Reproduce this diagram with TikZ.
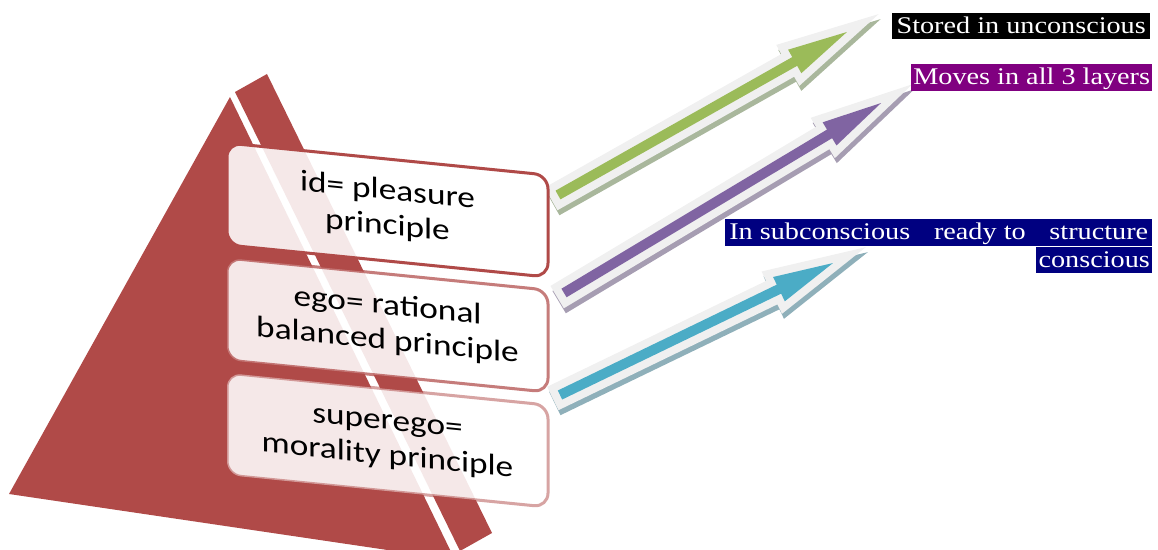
\documentclass[tikz,border=0pt]{standalone}
\usepackage{fontspec}
\setmainfont{Liberation Serif}
\newfontfamily\carlito{Carlito}
\definecolor{pyr}{HTML}{B04A48}
\definecolor{outl}{HTML}{F0F0F0}
\definecolor{agreen}{HTML}{9BBB59}
\definecolor{sgreen}{HTML}{A9B79C}
\definecolor{apurple}{HTML}{8064A2}
\definecolor{spurple}{HTML}{A69DB2}
\definecolor{ablue}{HTML}{4BACC6}
\definecolor{sblue}{HTML}{8FB0BA}
\definecolor{lblpurple}{HTML}{800080}
\definecolor{lblnavy}{HTML}{000080}
\newcommand\tdarrow[6]{%
  \begin{scope}[shift={(#1+2,#2+5)},rotate=#3]
    \draw[draw=#6,fill=#6,line width=16bp,line join=miter,miter limit=12]
      (0,-5) -- ({#4-60},-5) -- ({#4-60},-13.5) -- (#4,0) -- ({#4-60},13.5) -- ({#4-60},5) -- (0,5) -- cycle;
  \end{scope}
  \begin{scope}[shift={(#1,#2)},rotate=#3]
    \draw[draw=outl,fill=outl,line width=16bp,line join=miter,miter limit=12]
      (0,-5) -- ({#4-60},-5) -- ({#4-60},-13.5) -- (#4,0) -- ({#4-60},13.5) -- ({#4-60},5) -- (0,5) -- cycle;
    \fill[#5]
      (0,-5) -- ({#4-60},-5) -- ({#4-60},-13.5) -- (#4,0) -- ({#4-60},13.5) -- ({#4-60},5) -- (0,5) -- cycle;
  \end{scope}}
\begin{document}
\begin{tikzpicture}[x=1bp,y=-1bp,
  pbox/.style={transform shape,rounded corners=14bp,line width=3bp,fill=white,
    fill opacity=0.88,text opacity=1,minimum width=321bp,minimum height=102bp,
    inner sep=0pt,font=\carlito\fontsize{30}{35}\selectfont},
  lbl/.style={inner sep=0pt,anchor=north west,text=white,
    font=\fontsize{24}{26}\selectfont,text height=17bp,text depth=3bp}]
\useasboundingbox (0,0) rectangle (1158,550);
\clip (0,0) rectangle (1158,550);
% pyramid
\fill[pyr] (230,97) -- (9,494) -- (455,560) -- cycle;
\fill[pyr] (235,92) -- (267,74) -- (492,533) -- (460,551) -- cycle;
% arrows
\tdarrow{558}{195}{29.43}{331.8}{agreen}{sgreen}
\tdarrow{564}{293}{30.93}{369.6}{apurple}{spurple}
\tdarrow{560}{395}{25.8}{303.2}{ablue}{sblue}
% boxes
\begin{scope}[shift={(227,143)},yslant=-0.1]
  \node[pbox,draw=pyr] (id) at (160.5,51)
    {\scalebox{1.18}[1]{\begin{tabular}{@{}c@{}}id= pleasure\\principle\end{tabular}}};
\end{scope}
\begin{scope}[shift={(227,258)},yslant=-0.1]
  \node[pbox,draw=pyr,draw opacity=0.72] (ego) at (160.5,51)
    {\scalebox{1.18}[1]{\begin{tabular}{@{}c@{}}ego= rational\\balanced principle\end{tabular}}};
\end{scope}
\begin{scope}[shift={(227,373)},yslant=-0.1]
  \node[pbox,draw=pyr,draw opacity=0.5] (superego) at (160.5,51)
    {\scalebox{1.18}[1]{\begin{tabular}{@{}c@{}}superego=\\morality principle\end{tabular}}};
\end{scope}
% labels
\node[lbl,fill=black,minimum width=258bp,minimum height=26bp] (stored) at (892,13)
  {\scalebox{1.18}[1]{Stored in unconscious}};
\node[lbl,fill=lblpurple,minimum width=241bp,minimum height=27bp] (moves) at (911,64)
  {\scalebox{1.18}[1]{Moves in all 3 layers}};
\node[lbl,fill=lblnavy,minimum width=427bp,minimum height=27bp] (sub1) at (725,219)
  {\scalebox{1.18}[1]{\makebox[355bp][s]{In subconscious\hfill ready to\hfill structure}}};
\node[lbl,fill=lblnavy,minimum width=116bp,minimum height=26bp] (sub2) at (1036,247)
  {\scalebox{1.18}[1]{conscious}};
\end{tikzpicture}
\end{document}
